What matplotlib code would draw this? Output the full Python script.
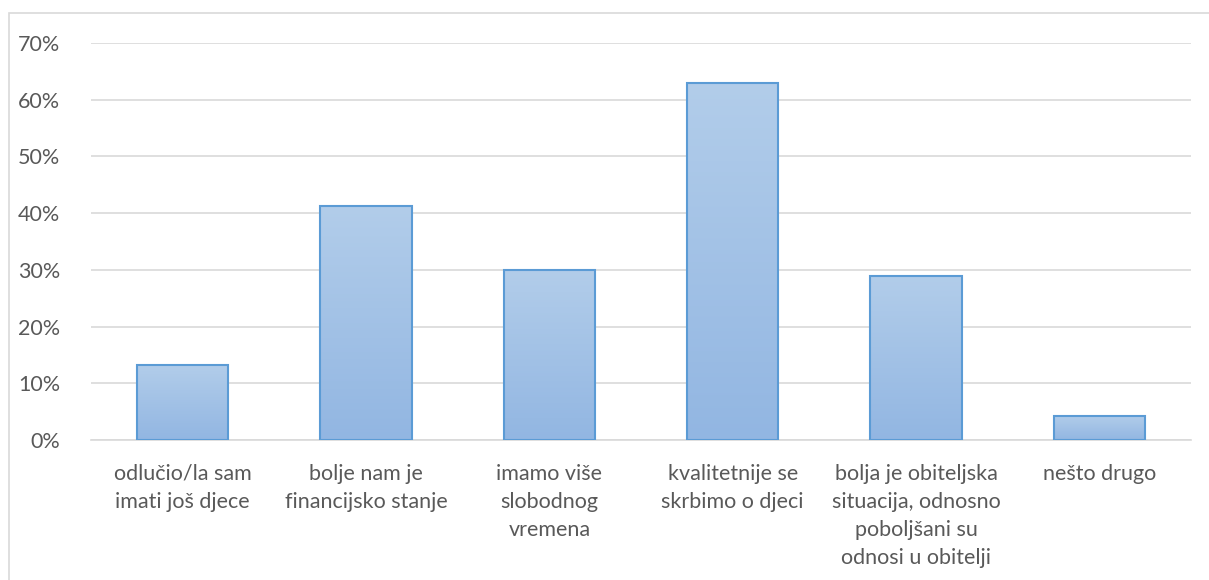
import numpy as np
import matplotlib
matplotlib.use('Agg')
import matplotlib.pyplot as plt
from matplotlib.patches import Rectangle
from matplotlib.ticker import FuncFormatter, MultipleLocator

plt.rcParams['font.family'] = ['Lato', 'DejaVu Sans']

# answers (Croatian survey) and share of respondents
categories = [
    "odlučio/la sam\nimati još djece",
    "bolje nam je\nfinancijsko stanje",
    "imamo više\nslobodnog\nvremena",
    "kvalitetnije se\nskrbimo o djeci",
    "bolja je obiteljska\nsituacija, odnosno\npoboljšani su\nodnosi u obitelji",
    "nešto drugo",
]
shares = [13.3, 41.2, 29.9, 62.9, 29.0, 4.3]

text_col = "#595959"
grid_col = "#d9d9d9"
edge_col = "#5b9bd5"

fig = plt.figure(figsize=(12.09, 5.8), dpi=100)
fig.patches.append(Rectangle((9/1209, -0.01), 1.0, 1.01 - 13/580, transform=fig.transFigure,
                             fill=False, edgecolor=grid_col, linewidth=1.2))
ax = fig.add_axes([91/1209, 1 - 440/580, 1100/1209, 397/580])

x = np.arange(len(categories))
width = 0.5
grad = np.linspace(0, 1, 256).reshape(-1, 1)
cmap = matplotlib.colors.LinearSegmentedColormap.from_list("g", ["#92b6e2", "#b2cdea"])
for xi, v in zip(x, shares):
    im = ax.imshow(grad, cmap=cmap, aspect='auto', origin='lower',
                   extent=[xi - width/2, xi + width/2, 0, v], zorder=2)
    r = Rectangle((xi - width/2, 0), width, v, facecolor='none', edgecolor=edge_col,
                  linewidth=1.5, zorder=3)
    ax.add_patch(r)
    im.set_clip_path(r)

ax.set_xlim(-0.5, len(categories) - 0.5)
ax.set_ylim(0, 70)
ax.yaxis.set_major_locator(MultipleLocator(10))
ax.yaxis.set_major_formatter(FuncFormatter(lambda v, p: "%d%%" % v))
ax.grid(axis='y', color=grid_col, linewidth=1.2, zorder=0)
ax.set_axisbelow(True)
for s in ['top', 'right', 'left']:
    ax.spines[s].set_visible(False)
ax.spines['bottom'].set_color(grid_col)
ax.spines['bottom'].set_linewidth(1.2)
ax.set_xticks(x)
ax.set_xticklabels(categories, linespacing=1.5, va='top')
ax.tick_params(axis='both', length=0, labelsize=15.5, colors=text_col)
ax.tick_params(axis='x', pad=17)
ax.tick_params(axis='y', pad=22)

fig.savefig("out.png", dpi=100)
